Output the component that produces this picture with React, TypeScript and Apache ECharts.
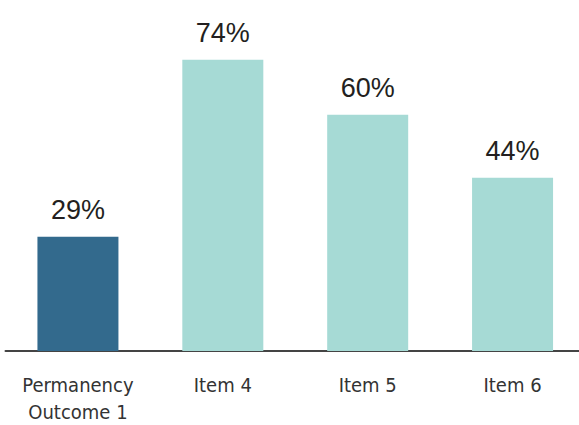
import React, { useEffect, useRef } from "react";
import * as echarts from "echarts";

const categories = ["Permanency\nOutcome 1", "Item 4", "Item 5", "Item 6"];
const values = [29, 74, 60, 44];
const barColors = ["#336a8d", "#a6dad5", "#a6dad5", "#a6dad5"];

export default function App() {
  const ref = useRef<HTMLDivElement>(null);
  useEffect(() => {
    const chart = echarts.init(ref.current!, null, { renderer: "svg" });
    chart.setOption({
      animation: false,
      grid: { left: 5.5, width: 579.5, top: 36, bottom: 72 },
      xAxis: {
        type: "category",
        data: categories,
        axisLine: { show: true, lineStyle: { color: "#444", width: 2 } },
        axisTick: { show: false },
        axisLabel: {
          interval: 0,
          margin: 20,
          fontFamily: "'DejaVu Sans Condensed', 'Liberation Sans Narrow', sans-serif",
          fontSize: 20,
          lineHeight: 27,
          color: "#333",
        },
      },
      yAxis: {
        type: "value",
        min: 0,
        max: 80,
        show: false,
        splitLine: { show: false },
      },
      series: [
        {
          type: "bar",
          barWidth: 81,
          data: values.map((v, i) => ({ value: v, itemStyle: { color: barColors[i] } })),
          label: {
            show: true,
            position: "top",
            distance: 13,
            formatter: "{c}%",
            fontFamily: "'Liberation Sans', Arial, sans-serif",
            fontSize: 27,
            color: "#231f20",
          },
        },
      ],
    });
    return () => chart.dispose();
  }, []);
  return (
    <div style={{ width: 579, height: 425, position: "absolute", left: 0, top: 0, overflow: "hidden" }}>
      <div ref={ref} style={{ width: 600, height: 425 }} />
    </div>
  );
}
